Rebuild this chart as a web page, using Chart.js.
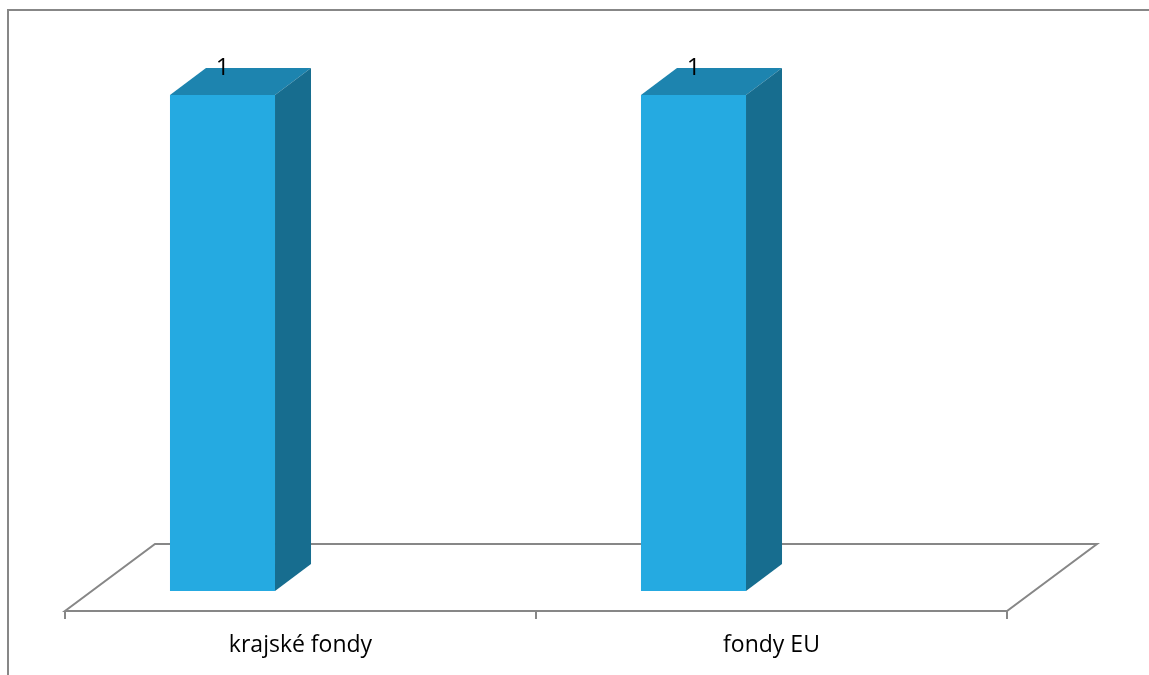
<!DOCTYPE html>
<html>
<head>
<meta charset="utf-8">
<script src="https://cdn.jsdelivr.net/npm/chart.js@4.4.1/dist/chart.umd.min.js"></script>
<style>
    html, body { margin: 0; padding: 0; background: #fff; }
    #graf { display: block; }
</style>
</head>
<body>
<canvas id="graf" width="1149" height="675"></canvas>
<script>
// data
const kategorie = ['krajské fondy', 'fondy EU'];
const hodnoty   = [1, 1];

// barvy
const barvaCelo = '#25AAE1';
const barvaVrch = '#1D84AF';
const barvaBok  = '#176D8F';
const barvaCara = '#878787';

// hloubka kvadru a podlahy
const hloubka = { dx: 36, dy: -27 };
const podlaha = { dx: 90, dy: -67, dole: 20 };
const posunSloupcu = -78;

const plugin3d = {
    id: 'plugin3d',
    beforeDatasetsDraw(chart) {
        const ctx = chart.ctx;
        const area = chart.chartArea;
        const y0 = chart.scales.y.getPixelForValue(0) + podlaha.dole;

        ctx.save();
        ctx.strokeStyle = barvaCara;
        ctx.lineWidth = 2;

        // ramecek grafu
        ctx.beginPath();
        ctx.moveTo(8, 680);
        ctx.lineTo(8, 10);
        ctx.lineTo(1160, 10);
        ctx.stroke();

        // podlaha
        ctx.beginPath();
        ctx.moveTo(area.left, y0);
        ctx.lineTo(area.right, y0);
        ctx.lineTo(area.right + podlaha.dx, y0 + podlaha.dy);
        ctx.lineTo(area.left + podlaha.dx, y0 + podlaha.dy);
        ctx.closePath();
        ctx.stroke();

        // znacky mezi kategoriemi
        const krok = (area.right - area.left) / kategorie.length;
        for (let i = 0; i <= kategorie.length; i++) {
            const px = Math.round(area.left + i * krok);
            ctx.beginPath();
            ctx.moveTo(px, y0);
            ctx.lineTo(px, y0 + 8);
            ctx.stroke();
        }
        ctx.restore();

        ctx.save();
        ctx.translate(posunSloupcu, 0);
    },
    afterDatasetsDraw(chart) {
        const ctx = chart.ctx;
        const meta = chart.getDatasetMeta(0);

        meta.data.forEach((bar, i) => {
            const p = bar.getProps(['x', 'y', 'base', 'width'], true);
            const l = p.x - p.width / 2;
            const r = p.x + p.width / 2;

            // vrchni stena
            ctx.fillStyle = barvaVrch;
            ctx.beginPath();
            ctx.moveTo(l, p.y);
            ctx.lineTo(r, p.y);
            ctx.lineTo(r + hloubka.dx, p.y + hloubka.dy);
            ctx.lineTo(l + hloubka.dx, p.y + hloubka.dy);
            ctx.closePath();
            ctx.fill();

            // bocni stena
            ctx.fillStyle = barvaBok;
            ctx.beginPath();
            ctx.moveTo(r, p.y);
            ctx.lineTo(r + hloubka.dx, p.y + hloubka.dy);
            ctx.lineTo(r + hloubka.dx, p.base + hloubka.dy);
            ctx.lineTo(r, p.base);
            ctx.closePath();
            ctx.fill();

            // popisek hodnoty
            ctx.fillStyle = '#000';
            ctx.font = '24px "Open Sans", sans-serif';
            ctx.textAlign = 'center';
            ctx.textBaseline = 'alphabetic';
            ctx.fillText(String(hodnoty[i]), p.x, p.y + hloubka.dy + 7);
        });

        ctx.restore();
    }
};

const ctx = document.getElementById('graf').getContext('2d');
new Chart(ctx, {
    type: 'bar',
    data: {
        labels: kategorie,
        datasets: [{
            data: hodnoty,
            backgroundColor: barvaCelo,
            borderWidth: 0,
            categoryPercentage: 1,
            barPercentage: 0.223,
            clip: false
        }]
    },
    options: {
        responsive: false,
        devicePixelRatio: 1,
        animation: false,
        layout: { padding: { left: 65, right: 142, top: 95, bottom: 0 } },
        plugins: {
            legend: { display: false },
            tooltip: { enabled: false }
        },
        scales: {
            x: {
                grid: { display: false, drawTicks: false },
                border: { display: false },
                ticks: {
                    color: '#000',
                    padding: 41,
                    font: { family: '"Open Sans", sans-serif', size: 23 }
                },
                afterFit: s => { s.height = 84; }
            },
            y: {
                display: false,
                min: 0,
                max: 1
            }
        }
    },
    plugins: [plugin3d]
});
</script>
</body>
</html>
